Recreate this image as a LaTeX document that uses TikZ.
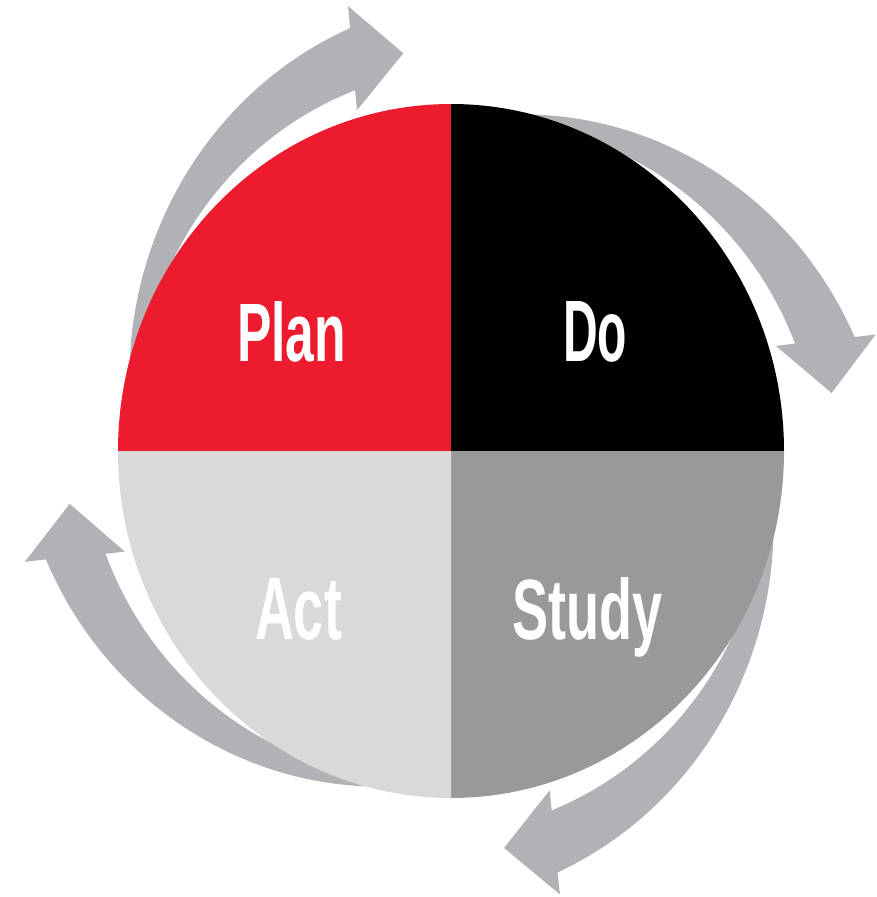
\documentclass[tikz,border=0pt]{standalone}
\usepackage{fontspec}
\usepackage{graphicx}
\newfontfamily\lblfont{Liberation Sans}
\definecolor{pdsared}{HTML}{EC1C2E}
\definecolor{pdsablack}{HTML}{000000}
\definecolor{pdsadark}{HTML}{999999}
\definecolor{pdsalight}{HTML}{D9D9D9}
\definecolor{pdsarrow}{HTML}{B1B2B6}
\tikzset{
  cyclearrow/.style={fill=pdsarrow},
  lbl/.style={inner sep=0pt, outer sep=0pt, text=white, anchor=base west}
}
\begin{document}
\begin{tikzpicture}[x=1pt,y=-1pt]
\useasboundingbox (0,0) rectangle (877,897);
\begin{scope}[shift={(451,451)},yscale=-1.042]
  % curved arrows (rotation sign is flipped by the y-flip of the frame)
  \foreach \r in {0,88.8,179.2,-90.45}{
    \begin{scope}[rotate=\r]
      \fill[cyclearrow] (-312.3,-10.8)
        arc[start angle=192.9, end angle=113.3, radius=365]
        -- (-103,427) -- (-47.7,381.7) -- (-94,327) -- (-95.9,346.2)
        arc[start angle=110.55, end angle=186.9, radius=337.2] -- cycle;
    \end{scope}
  }
  % quadrants
  \fill[pdsared]   (0,0) -- (-333,0) arc[start angle=180, end angle=90, radius=333] -- cycle;
  \fill[pdsablack] (0,0) -- (0,333) arc[start angle=90, end angle=0, radius=333] -- cycle;
  \fill[pdsadark]  (0,0) -- (333,0) arc[start angle=0, end angle=-90, radius=333] -- cycle;
  \fill[pdsalight] (0,0) -- (0,-333) arc[start angle=-90, end angle=-180, radius=333] -- cycle;
\end{scope}
\node[lbl] (plan)  at (237,361) {\resizebox{109pt}{60pt}{\lblfont\bfseries Plan}};
\node[lbl] (do)    at (563,361) {\resizebox{64pt}{60pt}{\lblfont\bfseries Do}};
\node[lbl] (act)   at (255,639) {\resizebox{87pt}{61pt}{\lblfont\bfseries Act}};
\node[lbl] (study) at (512,639) {\resizebox{150pt}{62pt}{\lblfont\bfseries Study}};
\end{tikzpicture}
\end{document}
